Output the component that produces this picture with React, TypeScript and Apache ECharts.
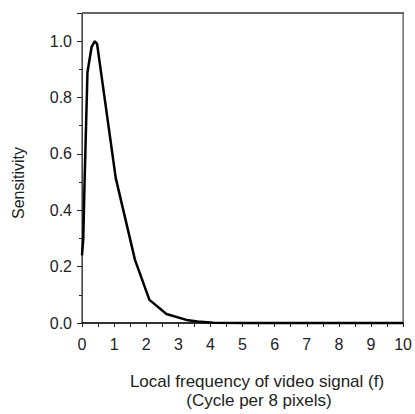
import React, { useEffect, useRef } from "react";
import * as echarts from "echarts";

const freq = [0, 0.04, 0.08, 0.17, 0.3, 0.4, 0.47, 0.58, 1.05, 1.65, 2.1, 2.63, 3.25, 3.6, 4.1, 5, 6, 7, 8, 9, 10];
const sensitivity = [0.24, 0.3, 0.5, 0.89, 0.98, 1.0, 0.99, 0.9, 0.515, 0.224, 0.082, 0.032, 0.011, 0.005, 0.001, 0, 0, 0, 0, 0, 0];
const xTitle = ["Local frequency of video signal (f)", "(Cycle per 8 pixels)"];
const yTitle = "Sensitivity";

export default function App() {
  const ref = useRef<HTMLDivElement>(null);
  useEffect(() => {
    if (!ref.current) return;
    const chart = echarts.init(ref.current, undefined, { renderer: "svg" });
    const font = "'Liberation Sans', Arial, Helvetica, sans-serif";
    chart.setOption({
      animation: false,
      backgroundColor: "#ffffff",
      grid: { left: 82, right: 11, top: 13, bottom: 91, show: true, borderColor: "#222", borderWidth: 1 },
      xAxis: {
        type: "value",
        min: 0,
        max: 10,
        interval: 1,
        axisLine: { show: true, onZero: false, lineStyle: { color: "#111", width: 1.5 } },
        axisTick: { show: true, inside: false, length: 4, lineStyle: { color: "#222" } },
        minorTick: { show: true, splitNumber: 2, length: 4, lineStyle: { color: "#222" } },
        splitLine: { show: false },
        axisLabel: { color: "#222", fontSize: 16, fontFamily: font, margin: 13 },
      },
      yAxis: {
        type: "value",
        min: 0,
        max: 1.1,
        interval: 0.2,
        axisLine: { show: true, onZero: false, lineStyle: { color: "#444", width: 1 } },
        axisTick: { show: true, inside: false, length: 5, lineStyle: { color: "#222" } },
        minorTick: { show: true, splitNumber: 2, length: 3, lineStyle: { color: "#222" } },
        splitLine: { show: false },
        axisLabel: {
          color: "#222",
          fontSize: 16,
          fontFamily: font,
          margin: 10,
          showMaxLabel: false,
          formatter: (v: number) => (Math.abs(v * 5 - Math.round(v * 5)) < 1e-6 ? v.toFixed(1) : ""),
        },
      },
      graphic: [
        {
          type: "line",
          shape: { x1: 82, y1: 13, x2: 404, y2: 13 },
          style: { stroke: "#666", lineWidth: 2 },
          z: 10,
        },
        {
          type: "text",
          x: 257,
          y: 381,
          style: { text: xTitle[0], fill: "#222", font: `17px ${font}`, align: "center", verticalAlign: "middle" },
        },
        {
          type: "text",
          x: 259,
          y: 400,
          style: { text: xTitle[1], fill: "#222", font: `17px ${font}`, align: "center", verticalAlign: "middle" },
        },
        {
          type: "text",
          x: 18,
          y: 183,
          rotation: Math.PI / 2,
          style: { text: yTitle, fill: "#222", font: `16px ${font}`, align: "center", verticalAlign: "middle" },
        },
      ],
      series: [
        {
          type: "line",
          data: freq.map((f, i) => [f, sensitivity[i]]),
          showSymbol: false,
          symbol: "none",
          lineStyle: { color: "#000", width: 2.5 },
          clip: false,
        },
      ],
    });
    return () => chart.dispose();
  }, []);
  return <div ref={ref} style={{ width: 415, height: 414, position: "absolute", left: 0, top: 0 }} />;
}
